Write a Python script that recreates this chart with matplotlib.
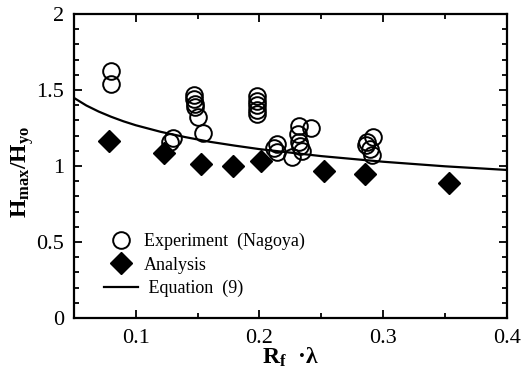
import matplotlib
matplotlib.use("Agg")
import matplotlib.pyplot as plt
from matplotlib.ticker import MultipleLocator
from matplotlib.lines import Line2D

# Experiment (Nagoya) - open circles
exp_x = [0.080, 0.080,
         0.130, 0.128,
         0.147, 0.147, 0.148, 0.148, 0.150, 0.154,
         0.198, 0.198, 0.198, 0.198, 0.198,
         0.214, 0.212, 0.214,
         0.226,
         0.232, 0.242, 0.231, 0.232, 0.233, 0.234,
         0.287, 0.292, 0.286, 0.289, 0.291]
exp_y = [1.625, 1.537,
         1.186, 1.160,
         1.47, 1.44, 1.41, 1.39, 1.32, 1.22,
         1.46, 1.43, 1.40, 1.37, 1.34,
         1.145, 1.12, 1.09,
         1.06,
         1.26, 1.25, 1.21, 1.16, 1.13, 1.10,
         1.16, 1.19, 1.14, 1.11, 1.07]

# Analysis - filled diamonds
ana_x = [0.078, 0.123, 0.153, 0.179, 0.201, 0.252, 0.285, 0.353]
ana_y = [1.164, 1.083, 1.011, 0.998, 1.035, 0.967, 0.948, 0.890]

# Equation (9) - curve
eq_x = [0.05, 0.06, 0.07, 0.08, 0.09, 0.10, 0.12, 0.14, 0.16, 0.18,
        0.20, 0.25, 0.30, 0.35, 0.40]
eq_y = [1.448, 1.398, 1.358, 1.324, 1.294, 1.268, 1.225, 1.190, 1.159, 1.134,
        1.111, 1.065, 1.028, 0.998, 0.974]

xticks = [0.1, 0.2, 0.3, 0.4]
xticklabels = ["0.1", "0.2", "0.3", "0.4"]
yticks = [0, 0.5, 1, 1.5, 2]
yticklabels = ["0", "0.5", "1", "1.5", "2"]

plt.rcParams['font.family'] = ['Liberation Serif', 'DejaVu Serif']
plt.rcParams['mathtext.fontset'] = 'custom'
plt.rcParams['mathtext.rm'] = 'Liberation Serif'
plt.rcParams['mathtext.bf'] = 'Liberation Serif:bold'
plt.rcParams['mathtext.it'] = 'Liberation Serif:italic'

fig = plt.figure(figsize=(5.28, 3.76), dpi=100)
ax = fig.add_axes([0.140, 0.154, 0.820, 0.809])

ax.plot(eq_x, eq_y, color='black', lw=1.6, zorder=2)
ax.plot(ana_x, ana_y, linestyle='none', marker='D', markersize=11,
        color='black', zorder=3)
ax.plot(exp_x, exp_y, linestyle='none', marker='o', markersize=12,
        markerfacecolor='none', markeredgecolor='black', markeredgewidth=1.4,
        zorder=4)

ax.set_xlim(0.05, 0.4)
ax.set_ylim(0, 2)
ax.set_xticks(xticks)
ax.set_xticklabels(xticklabels)
ax.set_yticks(yticks)
ax.set_yticklabels(yticklabels)
ax.xaxis.set_minor_locator(MultipleLocator(0.05))
ax.yaxis.set_minor_locator(MultipleLocator(0.1))
ax.tick_params(which='both', direction='in', top=True, right=True,
               labelsize=16, width=1.3)
ax.tick_params(which='major', length=6)
ax.tick_params(axis='x', which='major', pad=8)
ax.tick_params(axis='y', which='major', pad=7)
ax.tick_params(which='minor', length=3.5)
for s in ax.spines.values():
    s.set_linewidth(1.6)

ax.set_xlabel(r'$\mathbf{R_f}$  ·λ', fontsize=17, fontweight='bold',
              labelpad=-2)
ax.set_ylabel(r'$\mathbf{H_{max}/H_{yo}}$', fontsize=17)
ax.yaxis.set_label_coords(-0.088, 0.48)

handles = [
    Line2D([], [], linestyle='none', marker='o', markersize=12,
           markerfacecolor='none', markeredgecolor='black', markeredgewidth=1.4),
    Line2D([], [], linestyle='none', marker='D', markersize=11, color='black'),
    Line2D([], [], color='black', lw=1.6),
]
labels = ['Experiment  (Nagoya)', 'Analysis', ' Equation  (9)']
ax.legend(handles, labels, loc='lower left', bbox_to_anchor=(0.052, 0.045),
          frameon=False, fontsize=13, handlelength=1.9, handletextpad=0.35,
          labelspacing=0.35, borderaxespad=0)

fig.savefig('out.png', dpi=100)
